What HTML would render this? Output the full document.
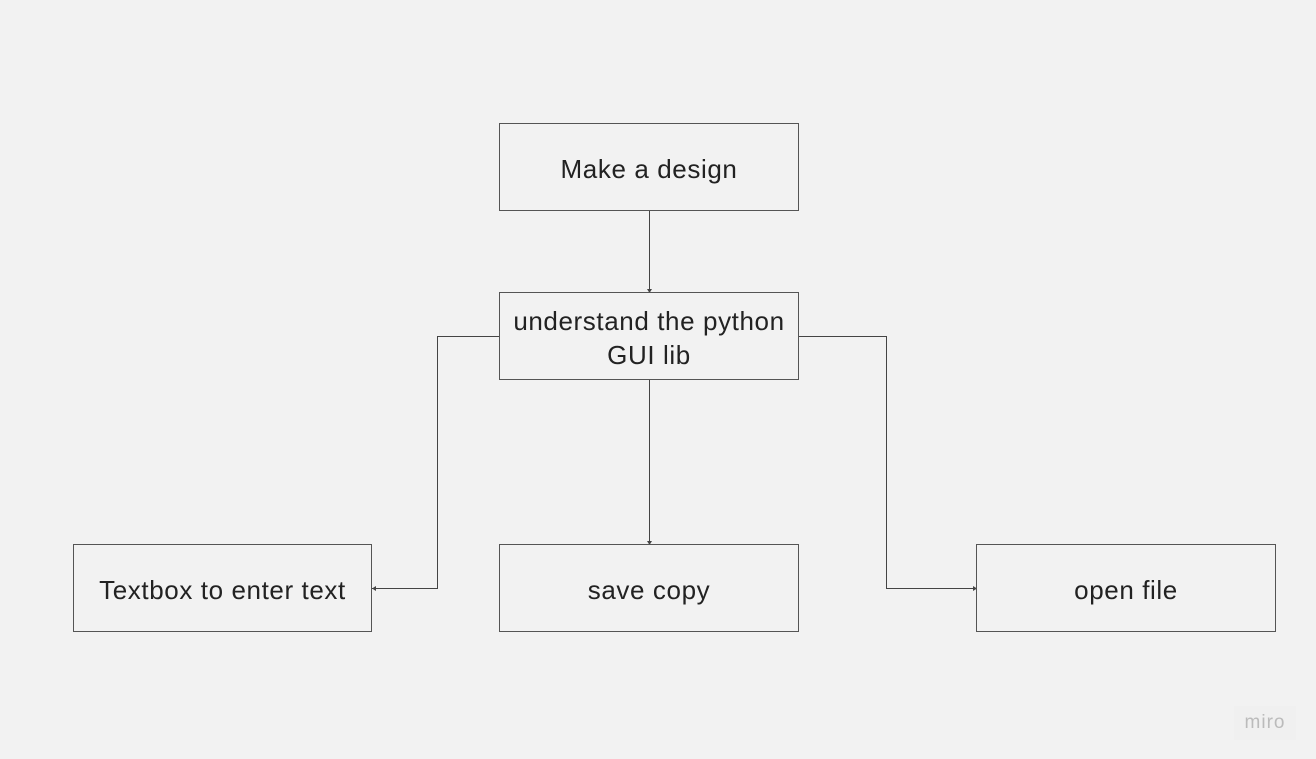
<!DOCTYPE html>
<html><head><style>
body{margin:0;width:1316px;height:759px;background:#f2f2f2;overflow:hidden;position:relative;font-family:"Liberation Sans","DejaVu Sans",sans-serif;}
.b{position:absolute;box-sizing:border-box;border:1px solid #555;display:flex;align-items:center;justify-content:center;text-align:center;color:#222;font-size:26px;letter-spacing:0.6px;line-height:34px;padding-top:3px;}
svg{position:absolute;left:0;top:0}
.m{position:absolute;left:1234px;top:706px;width:62px;height:34px;background:#f0f0f0;color:#bbb;font-size:19px;display:flex;align-items:center;justify-content:center;letter-spacing:1px}
</style></head><body>
<svg width="1316" height="759">
<g stroke="#444" stroke-width="1" fill="none">
<path d="M649.5 211V292"/>
<path d="M649.5 380V544"/>
<path d="M500 336.5H437.5V588.5H372"/>
<path d="M798 336.5H886.5V588.5H976"/>
</g>
<g fill="#444">
<path d="M647 289L652 289L649.5 293Z"/>
<path d="M647 541L652 541L649.5 545Z"/>
<path d="M376 586L376 591L372 588.5Z"/>
<path d="M973 586L973 591L977 588.5Z"/>
</g>
</svg>
<div class="b" style="left:499px;top:123px;width:300px;height:88px">Make a design</div>
<div class="b" style="left:499px;top:292px;width:300px;height:88px">understand the python<br>GUI lib</div>
<div class="b" style="left:73px;top:544px;width:299px;height:88px">Textbox to enter text</div>
<div class="b" style="left:499px;top:544px;width:300px;height:88px">save copy</div>
<div class="b" style="left:976px;top:544px;width:300px;height:88px">open file</div>
<div class="m">miro</div>
</body></html>
